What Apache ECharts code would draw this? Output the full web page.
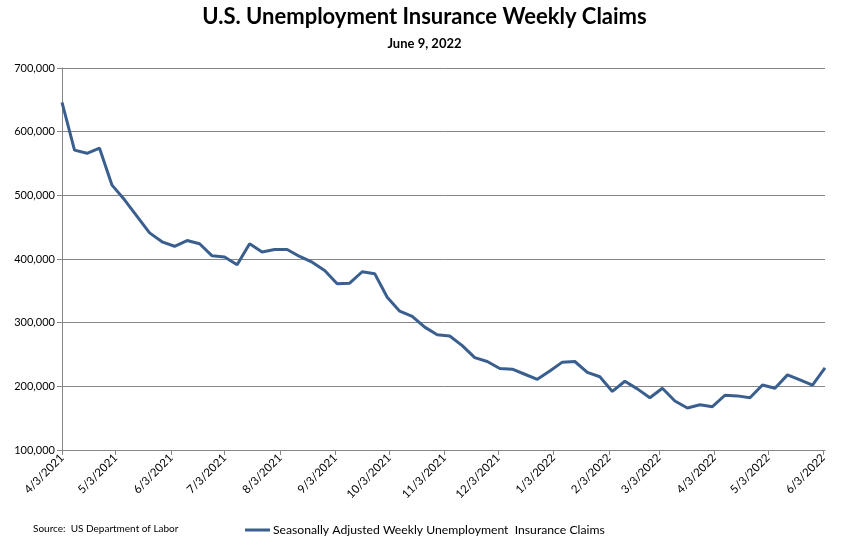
<!DOCTYPE html>
<html>
<head>
<meta charset="utf-8">
<script src="https://cdn.jsdelivr.net/npm/echarts@6/dist/echarts.min.js"></script>
<style>
html,body{margin:0;padding:0;background:#fff;}
#chart{width:849px;height:548px;}
</style>
</head>
<body>
<div id="chart"></div>
<script>
const weekEnding = [
  '2021-04-03','2021-04-10','2021-04-17','2021-04-24','2021-05-01','2021-05-08','2021-05-15','2021-05-22','2021-05-29',
  '2021-06-05','2021-06-12','2021-06-19','2021-06-26','2021-07-03','2021-07-10','2021-07-17','2021-07-24','2021-07-31',
  '2021-08-07','2021-08-14','2021-08-21','2021-08-28','2021-09-04','2021-09-11','2021-09-18','2021-09-25',
  '2021-10-02','2021-10-09','2021-10-16','2021-10-23','2021-10-30','2021-11-06','2021-11-13','2021-11-20','2021-11-27',
  '2021-12-04','2021-12-11','2021-12-18','2021-12-25','2022-01-01','2022-01-08','2022-01-15','2022-01-22','2022-01-29',
  '2022-02-05','2022-02-12','2022-02-19','2022-02-26','2022-03-05','2022-03-12','2022-03-19','2022-03-26',
  '2022-04-02','2022-04-09','2022-04-16','2022-04-23','2022-04-30','2022-05-07','2022-05-14','2022-05-21','2022-05-28',
  '2022-06-04'
];
const claims = [
  646000,571000,566000,574000,516000,493000,467000,441000,427000,
  420000,429000,424000,405000,403000,391000,424000,411000,415000,
  415000,404000,395000,382000,361000,362000,380000,377000,
  340000,318000,310000,293000,281000,279000,264000,245000,239000,
  228000,227000,219000,211000,224000,238000,239000,222000,215000,
  192000,208000,196000,182000,197000,177000,166000,171000,
  168000,186000,185000,182000,202000,197000,218000,210000,202000,
  229000
];
const tickDates = [
  '2021-04-03','2021-05-03','2021-06-03','2021-07-03','2021-08-03','2021-09-03','2021-10-03',
  '2021-11-03','2021-12-03','2022-01-03','2022-02-03','2022-03-03','2022-04-03','2022-05-03','2022-06-03'
];
const yTicks = [100000,200000,300000,400000,500000,600000,700000];
const titleText = 'U.S. Unemployment Insurance Weekly Claims';
const subtitleText = 'June 9, 2022';
const seriesName = 'Seasonally Adjusted Weekly Unemployment  Insurance Claims';
const sourceText = 'Source:  US Department of Labor';

function toTime(s){ const p = s.split('-').map(Number); return Date.UTC(p[0], p[1]-1, p[2]); }
function fmt(t){ const d = new Date(t); return (d.getUTCMonth()+1) + '/' + d.getUTCDate() + '/' + d.getUTCFullYear(); }
function fmtNum(v){ return String(v).replace(/\B(?=(\d{3})+(?!\d))/g, ','); }

const tickTimes = tickDates.map(toTime);
const data = weekEnding.map((d,i)=>[toTime(d), claims[i]]);
const FONT = 'Lato, "Liberation Sans", sans-serif';

const chart = echarts.init(document.getElementById('chart'), null, {renderer:'canvas'});
chart.setOption({
  backgroundColor:'#ffffff',
  animation:false,
  title:[
    {text:titleText, left:'center', top:6, padding:0, textStyle:{fontFamily:FONT, fontSize:22, fontWeight:'bold', color:'#000'}},
    {text:subtitleText, left:'center', top:37, padding:0, textStyle:{fontFamily:FONT, fontSize:13, fontWeight:'bold', color:'#000'}},
    {text:sourceText, left:33, top:524, padding:0, textStyle:{fontFamily:FONT, fontSize:10, fontWeight:'normal', color:'#000'}}
  ],
  legend:{
    data:[{name:seriesName, icon:'rect'}],
    left:245, top:524, padding:0,
    itemWidth:25, itemHeight:3, itemGap:4,
    textStyle:{fontFamily:FONT, fontSize:12.2, color:'#000', padding:[0,0,0,-2]}
  },
  grid:{left:62, top:68, right:24, bottom:98, containLabel:false},
  xAxis:{
    type:'value',
    min:toTime(weekEnding[0]),
    max:toTime(weekEnding[weekEnding.length-1]),
    axisLine:{show:true, lineStyle:{color:'#868686', width:1}},
    axisTick:{show:true, customValues:tickTimes, length:5, lineStyle:{color:'#868686'}},
    splitLine:{show:false},
    axisLabel:{customValues:tickTimes, rotate:45, formatter:(v)=>fmt(v), fontFamily:FONT, fontSize:11.5, color:'#000', margin:6, hideOverlap:false, showMinLabel:true, showMaxLabel:true}
  },
  yAxis:{
    type:'value', min:yTicks[0], max:yTicks[yTicks.length-1], interval:100000,
    axisLine:{show:true, lineStyle:{color:'#868686', width:1}},
    axisTick:{show:true, length:5, lineStyle:{color:'#868686'}},
    splitLine:{show:true, lineStyle:{color:'#868686', width:1}},
    axisLabel:{formatter:(v)=>fmtNum(v), fontFamily:FONT, fontSize:11, color:'#000', margin:7}
  },
  series:[{
    name:seriesName, type:'line', data:data, showSymbol:false, symbol:'none',
    lineStyle:{color:'#3A5F8F', width:3}, itemStyle:{color:'#3A5F8F'}
  }]
});
</script>
</body>
</html>
